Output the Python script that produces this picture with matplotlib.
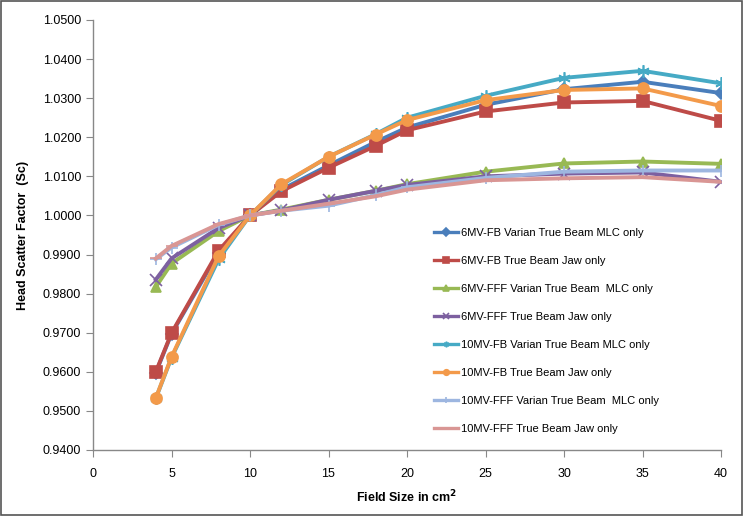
import matplotlib
matplotlib.use("Agg")
import matplotlib.pyplot as plt
from matplotlib.patches import Rectangle

field_size = [4, 5, 8, 10, 12, 15, 18, 20, 25, 30, 35, 40]

series_labels = [
    "6MV-FB Varian True Beam MLC only",
    "6MV-FB True Beam Jaw only",
    "6MV-FFF Varian True Beam  MLC only",
    "6MV-FFF True Beam Jaw only",
    "10MV-FB Varian True Beam MLC only",
    "10MV-FB True Beam Jaw only",
    "10MV-FFF Varian True Beam  MLC only",
    "10MV-FFF True Beam Jaw only",
]

mv6_fb_mlc = [0.9598, 0.9697, 0.9905, 1.0000, 1.0066, 1.0128, 1.0188, 1.0225, 1.0283, 1.0323, 1.0342, 1.0313]
mv6_fb_jaw = [0.9600, 0.9699, 0.9910, 1.0000, 1.0062, 1.0122, 1.0178, 1.0218, 1.0266, 1.0289, 1.0293, 1.0242]
mv6_fff_mlc = [0.9817, 0.9877, 0.9960, 1.0000, 1.0015, 1.0040, 1.0063, 1.0080, 1.0112, 1.0133, 1.0138, 1.0132]
mv6_fff_jaw = [0.9836, 0.9890, 0.9968, 1.0000, 1.0013, 1.0040, 1.0063, 1.0078, 1.0100, 1.0107, 1.0110, 1.0086]
mv10_fb_mlc = [0.9532, 0.9636, 0.9888, 1.0000, 1.0078, 1.0150, 1.0208, 1.0250, 1.0306, 1.0352, 1.0370, 1.0338]
mv10_fb_jaw = [0.9533, 0.9638, 0.9896, 1.0000, 1.0080, 1.0150, 1.0207, 1.0244, 1.0295, 1.0321, 1.0325, 1.0280]
mv10_fff_mlc = [0.9888, 0.9918, 0.9976, 1.0000, 1.0012, 1.0025, 1.0052, 1.0072, 1.0096, 1.0112, 1.0115, 1.0115]
mv10_fff_jaw = [0.9890, 0.9922, 0.9978, 1.0000, 1.0012, 1.0030, 1.0049, 1.0066, 1.0090, 1.0095, 1.0098, 1.0086]

series_values = [mv6_fb_mlc, mv6_fb_jaw, mv6_fff_mlc, mv6_fff_jaw,
                 mv10_fb_mlc, mv10_fb_jaw, mv10_fff_mlc, mv10_fff_jaw]

colors = ["#4A7EBB", "#BE4B48", "#98B954", "#7D60A0",
          "#46AAC5", "#F39A4A", "#9DB6E0", "#D99694"]
markers = ["D", "s", "^", "x", (6, 2, 0), "o", "+", "_"]
msizes = [6, 8, 7, 8, 9, 8, 8, 8]

y_ticks = [0.94, 0.95, 0.96, 0.97, 0.98, 0.99, 1.00, 1.01, 1.02, 1.03, 1.04, 1.05]
x_ticks = [0, 5, 10, 15, 20, 25, 30, 35, 40]

plt.rcParams['font.family'] = ['Liberation Sans', 'DejaVu Sans']

fig = plt.figure(figsize=(7.43, 5.16), dpi=100)
ax = fig.add_axes([93/743, 66/516, (721-93)/743, (450-20)/516])

for vals, lab, c, m, ms in zip(series_values, series_labels, colors, markers, msizes):
    ax.plot(field_size, vals, color=c, lw=2.8, marker=m, markersize=ms,
            markeredgewidth=1.2, markeredgecolor=c, markerfacecolor=c, label=lab,
            solid_joinstyle='round')

ax.set_xlim(0, 40)
ax.set_ylim(0.94, 1.05)
ax.set_xticks(x_ticks)
ax.set_yticks(y_ticks)
ax.set_yticklabels([f"{v:.4f}" for v in y_ticks])
ax.tick_params(axis='both', labelsize=9, color='#888888', length=5, direction='out')
ax.tick_params(axis='x', pad=8)
for s in ['top', 'right']:
    ax.spines[s].set_visible(False)
for s in ['left', 'bottom']:
    ax.spines[s].set_color('#888888')
    ax.spines[s].set_linewidth(1.0)

ax.set_ylabel("Head Scatter Factor  (Sc)", fontsize=9, fontweight='bold', labelpad=10)
ax.set_xlabel("Field Size in cm$^\\mathbf{2}$", fontsize=9, fontweight='bold', labelpad=6)

leg = ax.legend(loc='upper left', bbox_to_anchor=(0.536, 0.527), frameon=False,
                fontsize=8, labelspacing=1.62, handlelength=2.2, handletextpad=0.2,
                borderaxespad=0)
for h in leg.legend_handles:
    h.set_markersize(4)
    h.set_linewidth(2.4)

fig.patches.append(Rectangle((0.002, 0.002), 0.996, 0.996, transform=fig.transFigure,
                             fill=False, edgecolor='#555555', linewidth=1.2))

fig.savefig("out.png", dpi=100)
